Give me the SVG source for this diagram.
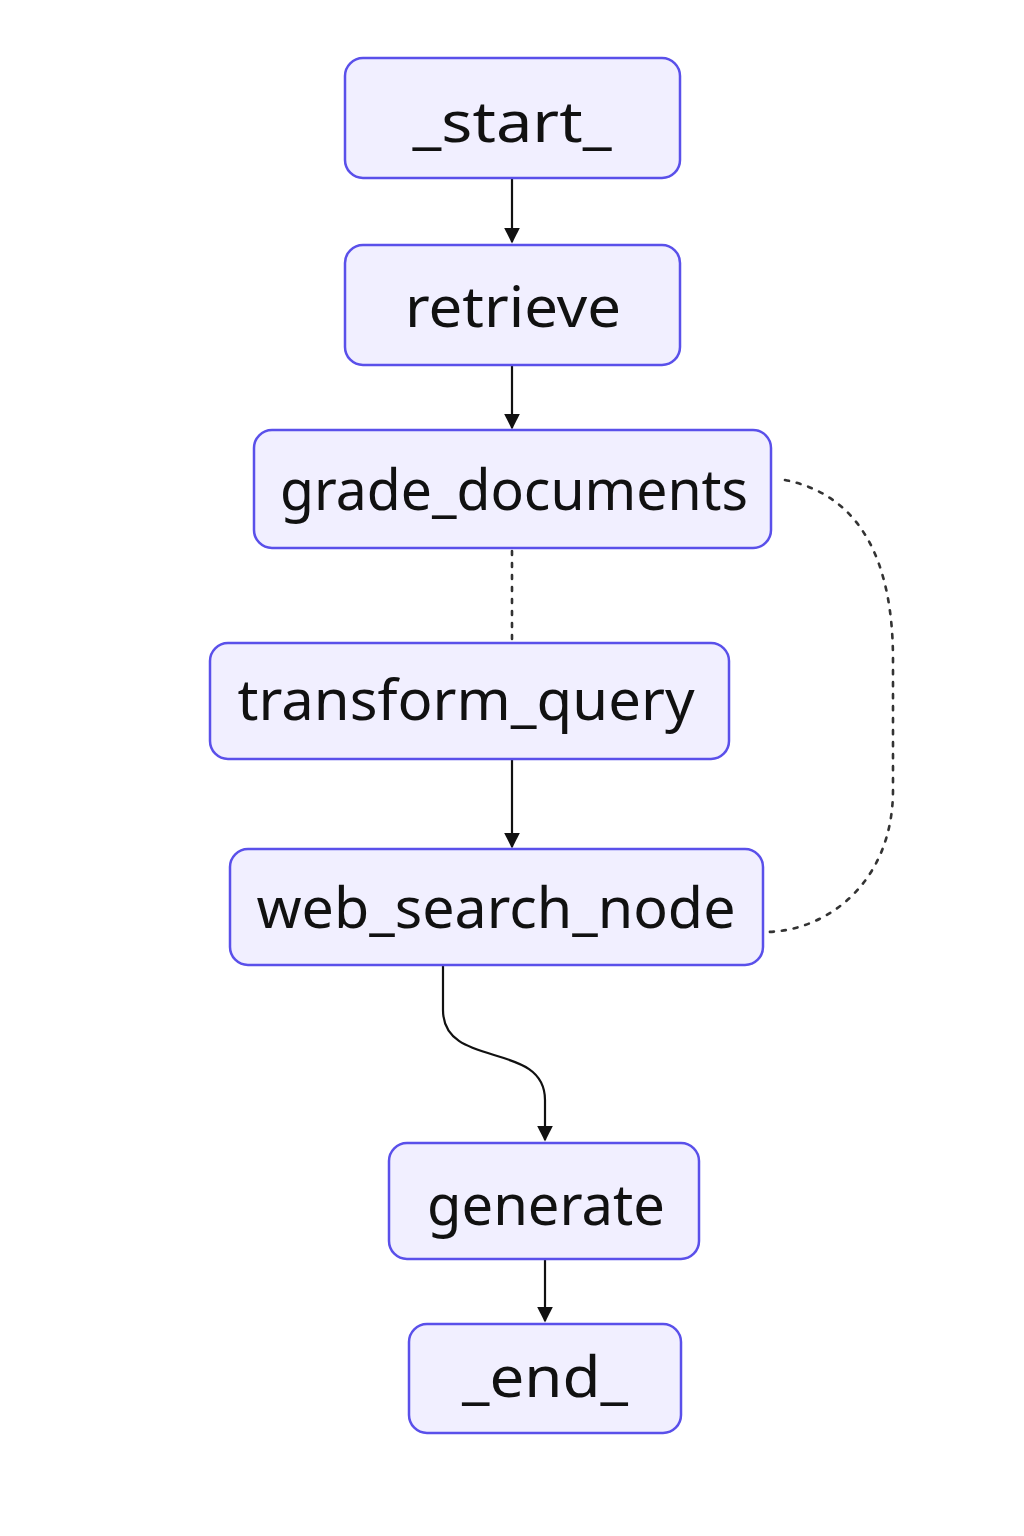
<svg xmlns="http://www.w3.org/2000/svg" width="1024" height="1536" viewBox="0 0 1024 1536">
<defs>
<style>
.node rect{fill:#f1efff;stroke:#5a50ea;stroke-width:2.5}
.node text{font-family:"Noto Sans","Open Sans","DejaVu Sans",sans-serif;font-size:56px;fill:#111;text-anchor:middle}
.edge{fill:none;stroke:#111;stroke-width:2.2}
.dot{fill:none;stroke:#333;stroke-width:2.6;stroke-dasharray:4 8;stroke-linecap:round}
</style>
<marker id="ah2" viewBox="0 0 10 10" refX="9" refY="5" markerWidth="16" markerHeight="16" markerUnits="userSpaceOnUse" orient="auto">
<path d="M0,0 L10,5 L0,10 z" fill="#111"/>
</marker>
</defs>
<rect width="1024" height="1536" fill="#fff"/>
<g id="connectors">
<path class="edge" d="M512,178 V242" marker-end="url(#ah2)"/>
<path class="edge" d="M512,365 V428" marker-end="url(#ah2)"/>
<path class="dot" d="M512,551 V640"/>
<path class="edge" d="M512,760 V847" marker-end="url(#ah2)"/>
<path class="dot" d="M785,480 C860,495 893,560 893,660 L893,790 C893,880 830,930 768,932"/>
<path class="edge" d="M443,965 V1010 C443,1070 545,1040 545,1100 V1140" marker-end="url(#ah2)"/>
<path class="edge" d="M545,1260 V1321" marker-end="url(#ah2)"/>
</g>
<g id="start" class="node"><rect x="345" y="58" width="335" height="120" rx="18"/><text x="512" y="142" textLength="199" lengthAdjust="spacingAndGlyphs">_start_</text></g>
<g id="retrieve" class="node"><rect x="345" y="245" width="335" height="120" rx="18"/><text x="513" y="327" textLength="216" lengthAdjust="spacingAndGlyphs">retrieve</text></g>
<g id="grade_documents" class="node"><rect x="254" y="430" width="517" height="118" rx="18"/><text x="514" y="510" textLength="468" lengthAdjust="spacingAndGlyphs">grade_documents</text></g>
<g id="transform_query" class="node"><rect x="210" y="643" width="519" height="116" rx="18"/><text x="466" y="720" textLength="457" lengthAdjust="spacingAndGlyphs">transform_query</text></g>
<g id="web_search_node" class="node"><rect x="230" y="849" width="533" height="116" rx="18"/><text x="496" y="928" textLength="479" lengthAdjust="spacingAndGlyphs">web_search_node</text></g>
<g id="generate" class="node"><rect x="389" y="1143" width="310" height="116" rx="18"/><text x="546" y="1225" textLength="238" lengthAdjust="spacingAndGlyphs">generate</text></g>
<g id="end" class="node"><rect x="409" y="1324" width="272" height="109" rx="18"/><text x="545" y="1397" textLength="166" lengthAdjust="spacingAndGlyphs">_end_</text></g>
</svg>
